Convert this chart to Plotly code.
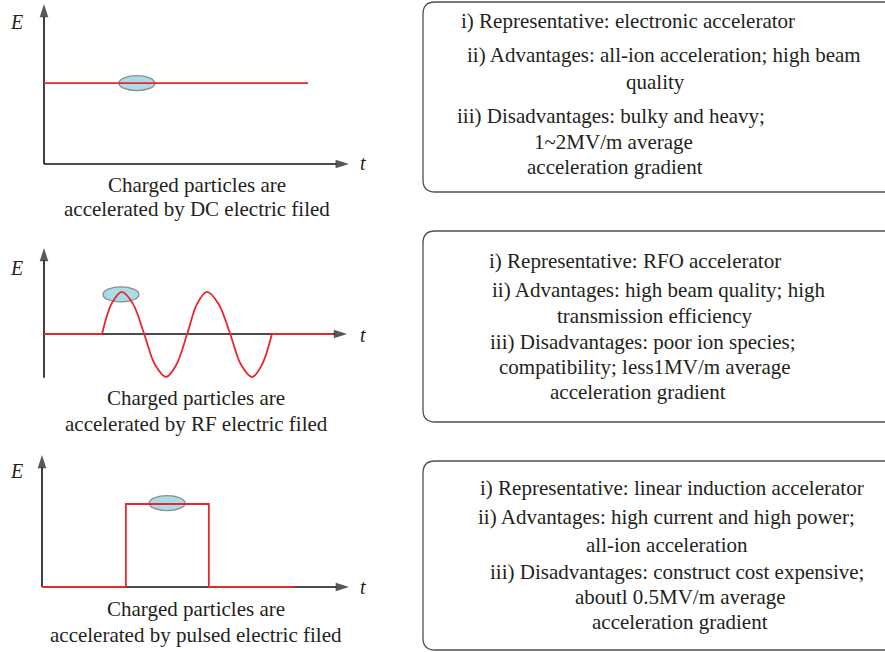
import plotly.graph_objects as go

W, H = 885, 652

# ---------------- data (E versus t, arbitrary units) ----------------
dc_t = [0.0, 6.14]
dc_E = [1.88, 1.88]

rf_lead_t = [0.0, 1.35]
rf_lead_E = [0.0, 0.0]
rf_wave_t = [1.35, 1.58, 1.81, 2.07, 2.33, 2.58, 2.84, 3.08, 3.33,
             3.56, 3.79, 4.06, 4.33, 4.58, 4.84, 5.07, 5.30]
rf_wave_E = [0.0, 0.72, 0.98, 0.70, 0.0, -0.71, -1.0, -0.71, 0.0,
             0.70, 0.98, 0.70, 0.0, -0.71, -1.0, -0.71, 0.0]
rf_tail_t = [5.30, 6.72]
rf_tail_E = [0.0, 0.0]

pulse_t = [0.0, 1.95, 1.95, 3.88, 3.88, 5.88]
pulse_E = [0.0, 0.0, 1.93, 1.93, 0.0, 0.0]

bunch_t = [2.16, 1.79, 2.91]
bunch_E = [1.88, 0.92, 1.95]

axis_t_end = [7.09, 7.05, 7.14]
axis_E_top = [3.72, 2.0, 3.07]
axis_E_bottom = [0.0, -1.02, 0.0]

captions = [
    ["Charged particles are", "accelerated by DC electric filed"],
    ["Charged particles are", "accelerated by RF electric filed"],
    ["Charged particles are", "accelerated by pulsed electric filed"],
]

box_lines = [
    ["i) Representative: electronic accelerator",
     "ii) Advantages: all-ion acceleration; high beam",
     "quality",
     "iii) Disadvantages: bulky and heavy;",
     "1~2MV/m average",
     "acceleration gradient"],
    ["i) Representative: RFO accelerator",
     "ii) Advantages: high beam quality; high",
     "transmission efficiency",
     "iii) Disadvantages: poor ion species;",
     "compatibility; less1MV/m average",
     "acceleration gradient"],
    ["i) Representative: linear induction accelerator",
     "ii) Advantages: high current and high power;",
     "all-ion acceleration",
     "iii) Disadvantages: construct cost expensive;",
     "aboutl 0.5MV/m average",
     "acceleration gradient"],
]

# ---------------- layout geometry (pixels) ----------------
SCALE = 43.0
panel_origin_px = [(44, 164), (44, 334), (42, 587)]
panel_band_px = [(0, 178), (226, 390), (440, 600)]
panel_right_px = 400

caption_px = [[(197, 185), (197, 209)], [(196, 398), (196, 424)], [(196, 609), (196, 635)]]
E_label_px = [(16, 22), (16, 268), (16, 471)]
t_label_px = [(363, 163), (363, 335), (363, 587)]

box_px = [(423, 2, 192), (423, 231, 422), (423, 461, 650)]
box_line_px = [
    [(628, 21), (664, 55), (655, 82), (611, 116), (613, 142), (615, 167)],
    [(635, 261), (659, 290), (654, 316), (643, 342), (645, 367), (638, 392)],
    [(672, 488), (666, 517), (667, 545), (677, 572), (680, 597), (680, 622)],
]

RED = "#e8262d"
TXT = "#231f20"
FONT = "Liberation Serif"
FS = 21


def px(x):
    return x / W


def py(y):
    return 1 - y / H


def text_ann(x, y, text, size=FS):
    return dict(x=px(x), y=py(y), xref="paper", yref="paper", text=text,
                xanchor="center", yanchor="middle", showarrow=False,
                font=dict(family=FONT, size=size, color=TXT))


fig = go.Figure()

series = [
    [(dc_t, dc_E, "linear")],
    [(rf_lead_t, rf_lead_E, "linear"), (rf_wave_t, rf_wave_E, "spline"), (rf_tail_t, rf_tail_E, "linear")],
    [(pulse_t, pulse_E, "linear")],
]

shapes = []
annotations = []

for i in range(3):
    xa = "x" if i == 0 else f"x{i+1}"
    ya = "y" if i == 0 else f"y{i+1}"
    ox, oy = panel_origin_px[i]
    ptop, pbot = panel_band_px[i]
    fig.layout[("xaxis" if i == 0 else f"xaxis{i+1}")] = dict(
        domain=[0, px(panel_right_px)],
        range=[(0 - ox) / SCALE, (panel_right_px - ox) / SCALE],
        visible=False, anchor=ya,
    )
    fig.layout[("yaxis" if i == 0 else f"yaxis{i+1}")] = dict(
        domain=[py(pbot), py(ptop)],
        range=[(oy - pbot) / SCALE, (oy - ptop) / SCALE],
        visible=False, anchor=xa,
    )
    # axes with arrow heads
    fig.add_trace(go.Scatter(
        x=[0, axis_t_end[i]], y=[0, 0], xaxis=xa, yaxis=ya, mode="lines+markers",
        line=dict(color="#111111", width=1.6),
        marker=dict(symbol="arrow", size=[0, 14], angleref="previous", color="#111111",
                    line=dict(width=0)),
        hoverinfo="skip", showlegend=False))
    fig.add_trace(go.Scatter(
        x=[0, 0], y=[axis_E_bottom[i], axis_E_top[i]], xaxis=xa, yaxis=ya, mode="lines+markers",
        line=dict(color="#111111", width=1.6),
        marker=dict(symbol="arrow", size=[0, 14], angleref="previous", color="#111111",
                    line=dict(width=0)),
        hoverinfo="skip", showlegend=False))
    # field curves
    for (tt, ee, shp) in series[i]:
        fig.add_trace(go.Scatter(
            x=tt, y=ee, xaxis=xa, yaxis=ya, mode="lines",
            line=dict(color=RED, width=1.8, shape=shp, smoothing=1.0),
            hoverinfo="skip", showlegend=False))
    # particle bunch
    shapes.append(dict(
        type="circle", xref=xa, yref=ya, layer="below",
        x0=bunch_t[i] - 18 / SCALE, x1=bunch_t[i] + 18 / SCALE,
        y0=bunch_E[i] - 7.5 / SCALE, y1=bunch_E[i] + 7.5 / SCALE,
        fillcolor="#acdbe8", line=dict(color="#8c8c8c", width=1.3)))
    # labels
    annotations.append(text_ann(*E_label_px[i], "<i>E</i>", 20))
    annotations.append(text_ann(*t_label_px[i], "<i>t</i>", 20))
    for line, (cx, cy) in zip(captions[i], caption_px[i]):
        annotations.append(text_ann(cx, cy, line))
    # rounded box
    x0, y0, y1 = box_px[i]
    x1 = W + 20
    r = 12
    path = (f"M {px(x0 + r)},{py(y0)} L {px(x1)},{py(y0)} L {px(x1)},{py(y1)} "
            f"L {px(x0 + r)},{py(y1)} Q {px(x0)},{py(y1)} {px(x0)},{py(y1 - r)} "
            f"L {px(x0)},{py(y0 + r)} Q {px(x0)},{py(y0)} {px(x0 + r)},{py(y0)} Z")
    shapes.append(dict(type="path", xref="paper", yref="paper", path=path,
                       line=dict(color="#505050", width=1.3), fillcolor="rgba(0,0,0,0)"))
    for line, (cx, cy) in zip(box_lines[i], box_line_px[i]):
        annotations.append(text_ann(cx, cy, line))

fig.update_layout(
    width=W, height=H, margin=dict(l=0, r=0, t=0, b=0),
    paper_bgcolor="white", plot_bgcolor="rgba(0,0,0,0)",
    shapes=shapes, annotations=annotations, showlegend=False,
)

fig.write_html("out.html", config={"displayModeBar": False},
               post_script="document.body.style.margin='0';document.body.style.overflow='hidden';")
